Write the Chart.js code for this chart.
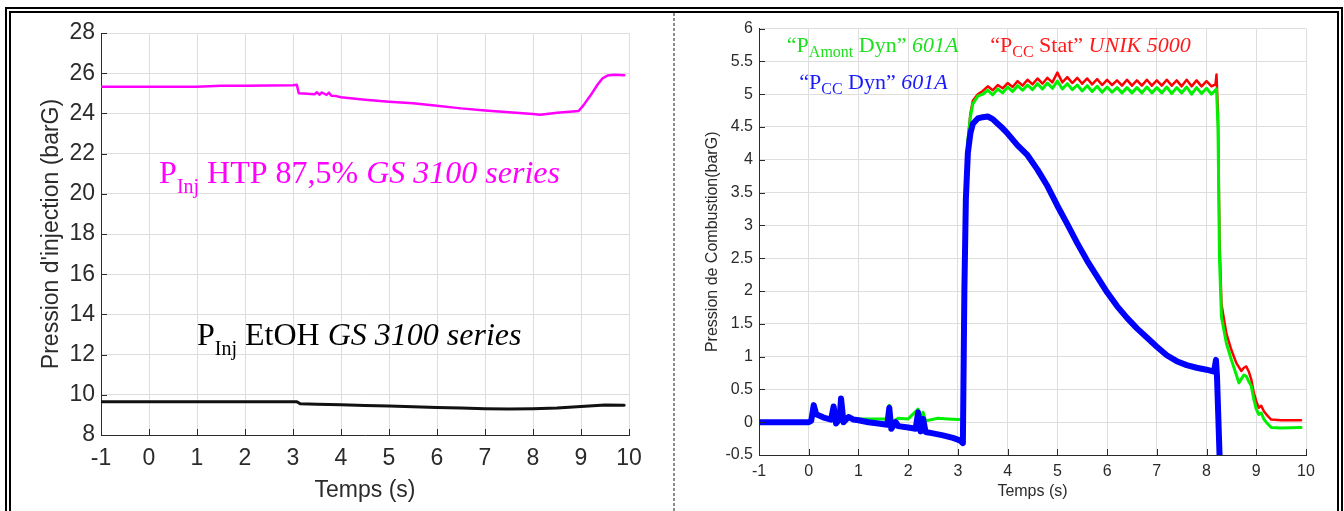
<!DOCTYPE html>
<html>
<head>
<meta charset="utf-8">
<title>Pression d'injection / Pression de combustion</title>
<script src="https://cdn.jsdelivr.net/npm/chart.js@4.4.1/dist/chart.umd.min.js"></script>
<style>
  html, body { margin: 0; padding: 0; background: #fff; width: 1344px; height: 511px; overflow: hidden; }
  .frame { position: absolute; left: 5px; top: 7px; width: 1338px; height: 560px; border: 6px double #000; box-sizing: border-box; }
  .divider { position: absolute; left: 673px; top: 13px; width: 2px; height: 498px;
    background: repeating-linear-gradient(to bottom, #8c8c8c 0 3px, transparent 3px 5px); }
  canvas { position: absolute; top: 13px; }
  #injChart { left: 12px; }
  #combChart { left: 676px; }
</style>
</head>
<body>
<div class="frame"></div>
<div class="divider"></div>
<canvas id="injChart" width="660" height="498"></canvas>
<canvas id="combChart" width="660" height="498"></canvas>

<script>
// Tick labels
const xTickLabels = ['-1', '0', '1', '2', '3', '4', '5', '6', '7', '8', '9', '10'];
const injTickLabels = ['8', '10', '12', '14', '16', '18', '20', '22', '24', '26', '28'];
const combTickLabels = ['-0.5', '0', '0.5', '1', '1.5', '2', '2.5', '3', '3.5', '4', '4.5', '5', '5.5', '6'];

// Left chart: injection pressure (barG) vs time (s)
const htpTime = [-1.0, 0, 1, 1.5, 2, 2.5, 3.0, 3.08, 3.12, 3.3, 3.45, 3.5, 3.55, 3.6, 3.7, 3.75, 3.8, 3.9,
  4.0, 4.5, 5.0, 5.5, 6.0, 6.5, 7.0, 7.5, 8.0, 8.15, 8.5, 8.95, 9.05, 9.2, 9.35, 9.45, 9.55, 9.7, 9.9];
const htpPressure = [25.33, 25.32, 25.33, 25.37, 25.38, 25.39, 25.4, 25.43, 25.0, 24.98, 24.95, 25.05, 24.93, 25.04, 24.92, 25.03, 24.88, 24.86,
  24.8, 24.68, 24.58, 24.5, 24.38, 24.25, 24.15, 24.06, 23.97, 23.93, 24.03, 24.12, 24.4, 24.9, 25.45, 25.75, 25.88, 25.92, 25.9];

const etohTime = [-1.0, 0, 1, 2, 3.0, 3.08, 3.15, 3.5, 4, 4.5, 5, 5.5, 6, 6.5, 7, 7.5, 8, 8.5, 9, 9.5, 9.9];
const etohPressure = [9.66, 9.66, 9.66, 9.66, 9.66, 9.66, 9.55, 9.53, 9.5, 9.47, 9.44, 9.41, 9.37, 9.34, 9.31, 9.29, 9.31, 9.34, 9.42, 9.49, 9.48];

// Right chart: combustion pressure (barG) vs time (s)
const pccDynTime = [-1.0, -0.5, 0.0, 0.05, 0.1, 0.15, 0.3, 0.45, 0.5, 0.55, 0.62, 0.65, 0.7, 0.8, 0.9, 1.0, 1.2, 1.4,
  1.58, 1.62, 1.66, 1.75, 1.8, 2.0, 2.15, 2.2, 2.25, 2.3, 2.35, 2.5, 2.7, 2.9, 3.05, 3.1,
  3.13, 3.16, 3.2, 3.25, 3.3, 3.4, 3.5, 3.6, 3.7, 3.8, 3.9, 4.0, 4.2, 4.4, 4.6, 4.8, 5.0, 5.2, 5.4,
  5.6, 5.8, 6.0, 6.2, 6.4, 6.6, 6.8, 7.0, 7.2, 7.4, 7.6, 7.8, 8.0, 8.15, 8.19, 8.21, 8.27];
const pccDyn = [0.0, 0.0, 0.0, 0.02, 0.26, 0.12, 0.07, 0.04, 0.24, -0.02, 0.05, 0.36, 0.0, 0.08, 0.04, 0.03, 0.0, -0.02,
  -0.04, 0.22, -0.1, 0.0, -0.06, -0.08, -0.1, 0.15, -0.14, 0.05, -0.15, -0.17, -0.2, -0.24, -0.28, -0.32,
  2.0, 3.4, 4.1, 4.4, 4.55, 4.63, 4.65, 4.66, 4.62, 4.55, 4.48, 4.4, 4.22, 4.07, 3.85, 3.6, 3.3, 3.02, 2.73,
  2.46, 2.22, 1.98, 1.77, 1.59, 1.43, 1.29, 1.15, 1.02, 0.93, 0.87, 0.83, 0.8, 0.77, 0.95, 0.7, -0.7];

const amontDynTime = [0.9, 1.0, 1.3, 1.58, 1.62, 1.66, 1.8, 2.0,
  2.2, 2.25, 2.3, 2.35, 2.6, 2.8, 3.0, 3.1, 3.13, 3.16, 3.2, 3.25, 3.3, 3.4,
  3.5, 3.6, 3.7, 3.8, 3.9, 4.0, 4.1, 4.2, 4.3, 4.4, 4.5, 4.6, 4.7, 4.8, 4.9, 5.0, 5.1, 5.2, 5.3, 5.4,
  5.5, 5.6, 5.7, 5.8, 5.9, 6.0, 6.1, 6.2, 6.3, 6.4, 6.5, 6.6, 6.7, 6.8, 6.9, 7.0, 7.1, 7.2, 7.3, 7.4,
  7.5, 7.6, 7.7, 7.8, 7.9, 8.0, 8.1, 8.2,
  8.23, 8.26, 8.3, 8.4, 8.5, 8.6, 8.65, 8.75, 8.8, 8.85, 8.9, 8.95, 9.0, 9.05, 9.1, 9.15, 9.2, 9.3, 9.5, 9.9];
const amontDyn = [0.04, 0.05, 0.05, 0.05, 0.26, 0.0, 0.06, 0.05,
  0.2, 0.0, 0.15, 0.02, 0.06, 0.05, 0.04, 0.04, 2.0, 3.5, 4.3, 4.65, 4.85, 4.97,
  5.0, 5.06, 4.99, 5.08, 5.02, 5.11, 5.04, 5.13, 5.06, 5.14, 5.07, 5.16, 5.08, 5.17, 5.09, 5.2, 5.08, 5.16, 5.07, 5.14,
  5.05, 5.13, 5.04, 5.12, 5.03, 5.11, 5.03, 5.1, 5.02, 5.1, 5.02, 5.1, 5.02, 5.11, 5.02, 5.1, 5.02, 5.11, 5.01, 5.1,
  5.02, 5.11, 5.0, 5.1, 5.01, 5.09, 5.0, 5.08,
  4.5, 2.5, 1.6, 1.2, 0.95, 0.72, 0.6, 0.72, 0.7, 0.62, 0.55, 0.35, 0.2, 0.12, 0.14, 0.05, 0.0, -0.08, -0.09, -0.08];

const pccStatTime = [3.1, 3.13, 3.16, 3.2, 3.25, 3.3, 3.4,
  3.5, 3.6, 3.7, 3.8, 3.9, 4.0, 4.1, 4.2, 4.3, 4.4, 4.5, 4.6, 4.7, 4.8, 4.9, 5.0, 5.1, 5.2, 5.3, 5.4,
  5.5, 5.6, 5.7, 5.8, 5.9, 6.0, 6.1, 6.2, 6.3, 6.4, 6.5, 6.6, 6.7, 6.8, 6.9, 7.0, 7.1, 7.2, 7.3, 7.4,
  7.5, 7.6, 7.7, 7.8, 7.9, 8.0, 8.1, 8.18, 8.2,
  8.23, 8.26, 8.3, 8.4, 8.5, 8.6, 8.7, 8.75, 8.8, 8.85, 8.9, 8.95, 9.0, 9.05, 9.1, 9.15, 9.2, 9.3, 9.5, 9.9];
const pccStat = [0.04, 2.0, 3.5, 4.3, 4.7, 4.9, 5.0,
  5.05, 5.12, 5.06, 5.14, 5.09, 5.17, 5.11, 5.2, 5.13, 5.22, 5.15, 5.24, 5.16, 5.25, 5.18, 5.33, 5.18, 5.26, 5.17, 5.25,
  5.16, 5.24, 5.15, 5.23, 5.14, 5.22, 5.14, 5.21, 5.13, 5.22, 5.13, 5.21, 5.13, 5.22, 5.13, 5.21, 5.13, 5.22, 5.13, 5.21,
  5.12, 5.22, 5.12, 5.21, 5.12, 5.2, 5.12, 5.15, 5.3,
  4.7, 2.8, 1.8, 1.35, 1.1, 0.9, 0.78, 0.83, 0.85, 0.77, 0.65, 0.45, 0.32, 0.22, 0.25, 0.17, 0.12, 0.04, 0.03, 0.03];

const toPoints = (xs, ys) => xs.map((x, i) => ({ x: x, y: ys[i] }));

const AXIS_COLOR = '#2b2b2b';
const GRID_COLOR = '#dedede';
const SANS = '"Liberation Sans", Arial, sans-serif';
const SERIF = '"Liberation Serif", "Times New Roman", serif';

// inward ticks, MATLAB style
const inwardTicks = {
  id: 'inwardTicks',
  afterDatasetsDraw(chart) {
    const { ctx, chartArea, scales } = chart;
    ctx.save();
    ctx.strokeStyle = AXIS_COLOR;
    ctx.lineWidth = 1;
    ctx.beginPath();
    scales.x.ticks.forEach(t => {
      const px = Math.round(scales.x.getPixelForValue(t.value)) + 0.5;
      ctx.moveTo(px, chartArea.bottom);
      ctx.lineTo(px, chartArea.bottom - 6);
    });
    scales.y.ticks.forEach(t => {
      const py = Math.round(scales.y.getPixelForValue(t.value)) + 0.5;
      ctx.moveTo(chartArea.left, py);
      ctx.lineTo(chartArea.left + 6, py);
    });
    ctx.stroke();
    ctx.restore();
  }
};

// text labels written inside the plot, with subscripts and italics
function makeLabels(items) {
  return {
    id: 'textLabels',
    afterDatasetsDraw(chart) {
      const { ctx, scales } = chart;
      ctx.save();
      ctx.textAlign = 'left';
      ctx.textBaseline = 'alphabetic';
      items.forEach(item => {
        let px = scales.x.getPixelForValue(item.x);
        const py = scales.y.getPixelForValue(item.y);
        ctx.fillStyle = item.color;
        item.runs.forEach(r => {
          ctx.font = (r.italic ? 'italic ' : '') + r.size + 'px ' + SERIF;
          ctx.fillText(r.text, px, py + (r.dy || 0));
          px += ctx.measureText(r.text).width;
        });
      });
      ctx.restore();
    }
  };
}

function xAxis(fontSize, tickPad, titlePad, boxHeight) {
  return {
    type: 'linear', min: -1, max: 10,
    ticks: {
      stepSize: 1, autoSkip: false, maxRotation: 0, padding: tickPad, color: AXIS_COLOR,
      font: { family: SANS, size: fontSize },
      callback: (v, i) => xTickLabels[i]
    },
    grid: { color: GRID_COLOR, drawTicks: false },
    border: { color: AXIS_COLOR, width: 1 },
    title: { display: true, text: 'Temps (s)', color: AXIS_COLOR, font: { family: SANS, size: fontSize }, padding: { top: 0, bottom: titlePad } },
    afterFit: s => { s.height = boxHeight; }
  };
}

function yAxis(min, max, step, labels, title, fontSize, titlePad, boxWidth) {
  return {
    type: 'linear', min: min, max: max,
    ticks: {
      stepSize: step, autoSkip: false, padding: 6, color: AXIS_COLOR,
      font: { family: SANS, size: fontSize },
      callback: (v, i) => labels[i]
    },
    grid: { color: GRID_COLOR, drawTicks: false },
    border: { color: AXIS_COLOR, width: 1 },
    title: { display: true, text: title, color: AXIS_COLOR, font: { family: SANS, size: fontSize }, padding: { top: titlePad, bottom: 0 } },
    afterFit: s => { s.width = boxWidth; }
  };
}

function lineSet(label, data, color, width) {
  return {
    label: label, data: data, borderColor: color, backgroundColor: color, borderWidth: width,
    borderJoinStyle: 'round', borderCapStyle: 'round', pointRadius: 0, tension: 0, fill: false
  };
}

// Left chart
new Chart(document.getElementById('injChart'), {
  type: 'line',
  data: {
    datasets: [
      lineSet('PInj HTP 87,5%', toPoints(htpTime, htpPressure), '#ff00ff', 2.5),
      lineSet('PInj EtOH', toPoints(etohTime, etohPressure), '#111111', 3)
    ]
  },
  options: {
    responsive: false,
    animation: false,
    layout: { padding: { left: 0, top: 20, right: 43, bottom: 0 } },
    plugins: { legend: { display: false }, tooltip: { enabled: false } },
    scales: {
      x: xAxis(23, 10, 7, 76),
      y: yAxis(8, 28, 2, injTickLabels, "Pression d'injection (barG)", 23, 26, 89)
    }
  },
  plugins: [inwardTicks, makeLabels([
    { x: 0.21, y: 20.54, color: '#ff00ff', runs: [
      { text: 'P', size: 32 }, { text: 'Inj', size: 20, dy: 10 },
      { text: ' HTP 87,5% ', size: 32 }, { text: 'GS 3100 series', size: 32, italic: true }] },
    { x: 1.0, y: 12.48, color: '#000000', runs: [
      { text: 'P', size: 32 }, { text: 'Inj', size: 20, dy: 10 },
      { text: ' EtOH ', size: 32 }, { text: 'GS 3100 series', size: 32, italic: true }] }
  ])]
});

// Right chart
new Chart(document.getElementById('combChart'), {
  type: 'line',
  data: {
    datasets: [
      lineSet('PCC Dyn 601A', toPoints(pccDynTime, pccDyn), '#0000ff', 6),
      lineSet('PAmont Dyn 601A', toPoints(amontDynTime, amontDyn), '#00f000', 3),
      lineSet('PCC Stat UNIK 5000', toPoints(pccStatTime, pccStat), '#ff0000', 2.5)
    ]
  },
  options: {
    responsive: false,
    animation: false,
    layout: { padding: { left: 0, top: 15, right: 30, bottom: 0 } },
    plugins: { legend: { display: false }, tooltip: { enabled: false } },
    scales: {
      x: xAxis(16, 6.5, 9.4, 56),
      y: yAxis(-0.5, 6, 0.5, combTickLabels, 'Pression de Combustion(barG)', 16, 27.4, 83)
    }
  },
  plugins: [inwardTicks, makeLabels([
    { x: -0.44, y: 5.64, color: '#1ee01e', runs: [
      { text: '\u201CP', size: 22 }, { text: 'Amont', size: 16, dy: 5 },
      { text: ' Dyn\u201D ', size: 22 }, { text: '601A', size: 22, italic: true }] },
    { x: 3.65, y: 5.64, color: '#ff1a1a', runs: [
      { text: '\u201CP', size: 22 }, { text: 'CC', size: 16, dy: 5 },
      { text: ' Stat\u201D ', size: 22 }, { text: 'UNIK 5000', size: 22, italic: true }] },
    { x: -0.19, y: 5.08, color: '#1a1aff', runs: [
      { text: '\u201CP', size: 22 }, { text: 'CC', size: 16, dy: 5 },
      { text: ' Dyn\u201D ', size: 22 }, { text: '601A', size: 22, italic: true }] }
  ])]
});
</script>
</body>
</html>
